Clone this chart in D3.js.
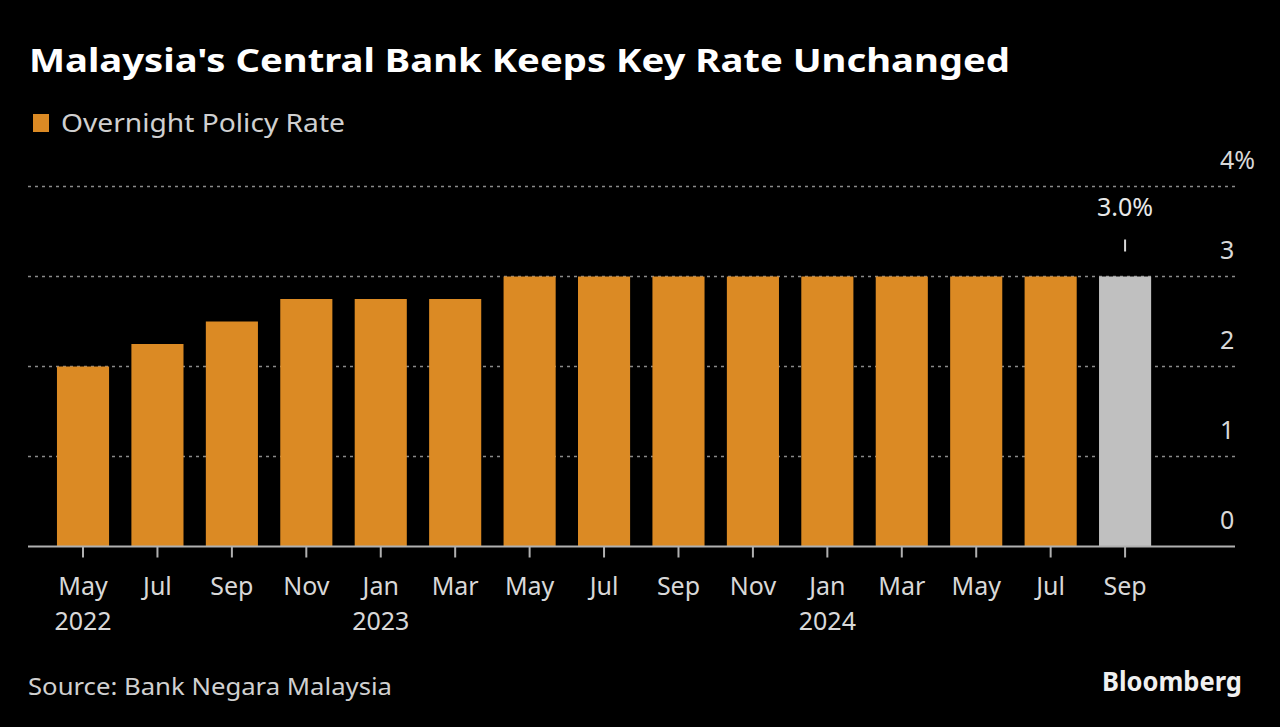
<!DOCTYPE html>
<html><head><meta charset="utf-8">
<script src="https://cdn.jsdelivr.net/npm/d3@7"></script>
<style>
html,body{margin:0;padding:0;background:#000;}
svg{display:block;}
text{font-family:"Noto Sans","DejaVu Sans",sans-serif;}
</style></head>
<body>
<svg id="chart" width="1280" height="727"></svg>
<script>
const months = ["May","Jul","Sep","Nov","Jan","Mar","May","Jul","Sep","Nov","Jan","Mar","May","Jul","Sep"];
const years  = ["2022","","","","2023","","","","","","2024","","","",""];
const rates  = [2.0,2.25,2.5,2.75,2.75,2.75,3.0,3.0,3.0,3.0,3.0,3.0,3.0,3.0,3.0];
const isLatest = [false,false,false,false,false,false,false,false,false,false,false,false,false,false,true];
const yTicks = [0,1,2,3,4];
const yTickLabels = ["0","1","2","3","4%"];
const annotationText = "3.0%";

const svg = d3.select("#chart");
svg.append("rect").attr("width",1280).attr("height",727).attr("fill","#000");

const ids = months.map((m,i)=>i);
const x = d3.scaleBand().domain(ids).range([45.8,1162.3]).paddingInner(0.3).paddingOuter(0.15);
const y = d3.scaleLinear().domain([0,4]).range([546.5,186.5]);

// title
svg.append("text").attr("x",29).attr("y",72).attr("fill","#fff")
  .attr("font-size",33).attr("font-weight","bold")
  .attr("textLength",981).attr("lengthAdjust","spacingAndGlyphs")
  .text("Malaysia's Central Bank Keeps Key Rate Unchanged");

// legend
svg.append("rect").attr("x",33).attr("y",114).attr("width",16).attr("height",18).attr("fill","#db8a24");
svg.append("text").attr("x",61).attr("y",132).attr("fill","#d0d0d0")
  .attr("font-size",26).attr("textLength",284).attr("lengthAdjust","spacingAndGlyphs")
  .text("Overnight Policy Rate");

// gridlines
svg.append("g").selectAll("line").data(yTicks.filter(d=>d>0)).join("line")
  .attr("x1",28).attr("x2",1235).attr("y1",d=>y(d)).attr("y2",d=>y(d))
  .attr("stroke","#8a8a8a").attr("stroke-width",1.5).attr("stroke-dasharray","3,4");

// y labels
svg.append("g").selectAll("text").data(yTicks).join("text")
  .attr("x",1220).attr("y",d=>y(d)-18).attr("fill","#d8d8d8").attr("font-size",25)
  .text((d,i)=>yTickLabels[i]);

// bars
svg.append("g").selectAll("rect").data(rates).join("rect")
  .attr("x",(d,i)=>x(i)).attr("width",x.bandwidth())
  .attr("y",d=>y(d)).attr("height",d=>y(0)-y(d))
  .attr("fill",(d,i)=>isLatest[i]?"#c0c0c0":"#db8a24");

// baseline
svg.append("line").attr("x1",28).attr("x2",1235).attr("y1",y(0)).attr("y2",y(0))
  .attr("stroke","#b0b0b0").attr("stroke-width",2);

// x ticks
svg.append("g").selectAll("line").data(ids).join("line")
  .attr("x1",i=>x(i)+x.bandwidth()/2).attr("x2",i=>x(i)+x.bandwidth()/2)
  .attr("y1",y(0)).attr("y2",y(0)+11).attr("stroke","#b0b0b0").attr("stroke-width",2);

// x labels
const xl = svg.append("g").attr("fill","#d8d8d8").attr("font-size",25).attr("text-anchor","middle");
xl.selectAll("text.m").data(ids).join("text").attr("class","m")
  .attr("x",i=>x(i)+x.bandwidth()/2).attr("y",595).text(i=>months[i]);
xl.selectAll("text.yr").data(ids.filter(i=>years[i])).join("text").attr("class","yr")
  .attr("x",i=>x(i)+x.bandwidth()/2).attr("y",630).text(i=>years[i]);

// annotation
const last = rates.length-1;
const cx = x(last)+x.bandwidth()/2;
svg.append("line").attr("x1",cx).attr("x2",cx).attr("y1",y(rates[last])-37).attr("y2",y(rates[last])-25)
  .attr("stroke","#d8d8d8").attr("stroke-width",2);
svg.append("text").attr("x",cx).attr("y",216).attr("text-anchor","middle").attr("fill","#e8e8e8")
  .attr("font-size",25).text(annotationText);

// source
svg.append("text").attr("x",28).attr("y",695).attr("fill","#d0d0d0").attr("font-size",24)
  .attr("textLength",364).attr("lengthAdjust","spacingAndGlyphs")
  .text("Source: Bank Negara Malaysia");

// logo
svg.append("text").attr("x",1242).attr("y",691).attr("text-anchor","end").attr("fill","#f0f0f0")
  .attr("font-size",26).attr("font-weight","bold")
  .attr("textLength",140).attr("lengthAdjust","spacingAndGlyphs")
  .text("Bloomberg");
</script>
</body></html>
